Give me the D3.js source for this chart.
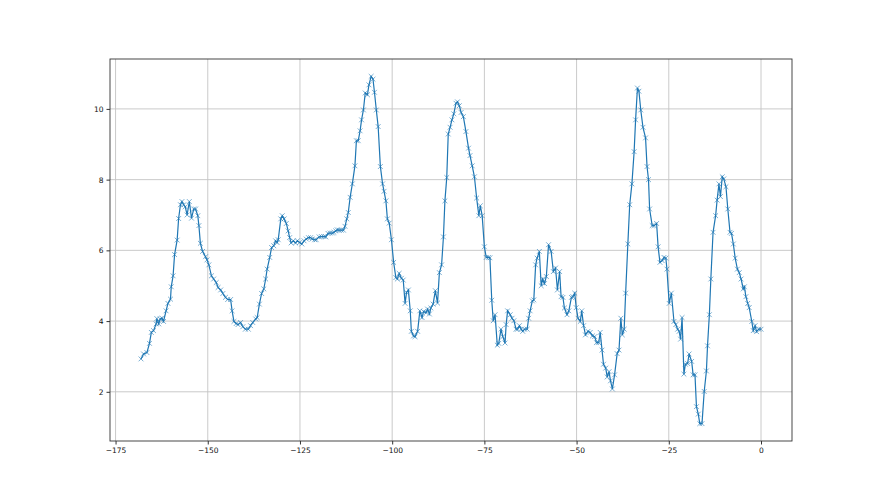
<!DOCTYPE html>
<html>
<head>
<meta charset="utf-8">
<script src="https://cdn.jsdelivr.net/npm/d3@7"></script>
<style>
 body { margin: 0; background: #fff; }
 .axis text { font-family: "DejaVu Sans", sans-serif; font-size: 7.5px; fill: #111; }
 .axis path, .axis line { stroke: #333; }
</style>
</head>
<body>
<svg width="880" height="495"></svg>
<script>
// values
var xVals = [-168.1, -167.4, -166.5, -165.8, -165.3, -164.7, -164.0, -163.8, -163.3, -162.9,
 -162.4, -162.0, -161.3, -160.8, -160.1, -159.9, -159.4, -159.0, -158.3, -157.9,
 -157.4, -157.0, -156.5, -156.1, -155.6, -155.0, -154.4, -153.8, -153.3, -152.7,
 -152.4, -152.0, -151.4, -150.6, -150.2, -149.7, -149.0, -148.4, -147.7, -147.2,
 -146.5, -145.9, -145.2, -144.6, -143.8, -143.4, -142.9, -142.3, -141.8, -141.1,
 -140.5, -139.8, -139.0, -138.4, -137.8, -137.0, -136.6, -136.0, -135.4, -134.8,
 -134.3, -133.9, -133.2, -132.7, -132.1, -131.6, -131.2, -130.9, -130.2, -129.8,
 -129.3, -128.7, -128.2, -127.8, -127.4, -126.8, -126.2, -125.7, -125.1, -124.5,
 -123.9, -123.3, -122.7, -122.1, -121.7, -121.0, -120.6, -119.8, -119.2, -118.5,
 -118.0, -117.4, -116.8, -116.2, -115.8, -115.3, -114.9, -114.4, -113.8, -113.2,
 -112.8, -112.3, -111.9, -111.4, -110.8, -110.1, -109.7, -109.2, -108.7, -108.3,
 -107.8, -107.3, -106.7, -106.3, -105.7, -105.2, -104.8, -104.3, -103.8, -103.2,
 -102.6, -102.2, -101.7, -101.3, -100.8, -100.2, -99.6, -99.0, -98.6, -98.1,
 -97.5, -97.0, -96.5, -96.1, -95.6, -95.1, -94.8, -94.2, -93.8, -93.1,
 -92.5, -91.9, -91.5, -90.8, -90.4, -89.9, -89.5, -88.9, -88.3, -87.7,
 -87.2, -86.6, -86.1, -85.7, -85.2, -84.8, -84.3, -83.8, -83.3, -82.7,
 -82.3, -81.8, -81.3, -80.7, -80.0, -79.3, -78.9, -78.3, -77.7, -77.1,
 -76.5, -76.1, -75.6, -75.0, -74.5, -73.9, -73.5, -73.0, -72.6, -72.1,
 -71.5, -71.1, -70.5, -70.0, -69.4, -69.1, -68.7, -68.0, -67.5, -67.0,
 -66.4, -66.0, -65.5, -65.0, -64.6, -64.1, -63.4, -63.0, -62.6, -62.0,
 -61.6, -61.1, -60.7, -60.1, -59.6, -59.2, -58.7, -58.2, -57.6, -56.9,
 -56.3, -55.7, -55.2, -54.6, -54.2, -53.7, -53.3, -52.6, -52.1, -51.4,
 -51.0, -50.5, -50.1, -49.6, -49.0, -48.6, -48.1, -47.6, -46.9, -46.3,
 -45.7, -45.1, -44.6, -44.0, -43.6, -43.1, -42.7, -42.1, -41.7, -41.2,
 -40.8, -40.3, -39.7, -39.0, -38.5, -38.0, -37.6, -37.1, -36.7, -36.1,
 -35.6, -35.0, -34.4, -34.0, -33.5, -33.1, -32.6, -32.0, -31.3, -30.9,
 -30.5, -30.2, -29.5, -29.0, -28.3, -27.9, -27.4, -26.8, -26.3, -25.8,
 -25.5, -24.9, -24.3, -23.6, -23.1, -22.6, -22.2, -21.8, -21.4, -20.9,
 -20.5, -19.9, -19.5, -18.8, -18.4, -17.9, -17.5, -17.0, -16.6, -16.0,
 -15.4, -14.8, -14.5, -14.0, -13.6, -13.0, -12.3, -11.9, -11.4, -11.0,
 -10.5, -10.1, -9.5, -9.0, -8.4, -8.0, -7.5, -7.0, -6.4, -5.9,
 -5.4, -4.8, -4.5, -4.1, -3.6, -3.2, -2.5, -2.1, -1.6, -1.2,
 -0.6, 0.0];

var yVals = [2.93, 3.07, 3.11, 3.37, 3.68, 3.73, 3.92, 4.07, 3.92, 4.06,
 4.08, 3.99, 4.29, 4.50, 4.62, 4.97, 5.28, 5.88, 6.29, 6.90,
 7.29, 7.38, 7.29, 7.23, 7.00, 7.38, 6.91, 7.17, 7.17, 6.98,
 6.70, 6.20, 5.97, 5.82, 5.73, 5.59, 5.28, 5.19, 5.09, 4.95,
 4.88, 4.78, 4.67, 4.61, 4.61, 4.29, 3.99, 3.93, 3.90, 3.96,
 3.84, 3.77, 3.77, 3.87, 3.96, 4.06, 4.10, 4.48, 4.78, 4.91,
 5.19, 5.47, 5.80, 6.08, 6.13, 6.27, 6.22, 6.30, 6.89, 6.98,
 6.89, 6.76, 6.55, 6.36, 6.21, 6.27, 6.21, 6.27, 6.22, 6.18,
 6.27, 6.32, 6.36, 6.36, 6.32, 6.30, 6.30, 6.38, 6.39, 6.39,
 6.38, 6.48, 6.49, 6.49, 6.51, 6.55, 6.58, 6.57, 6.57, 6.57,
 6.68, 6.89, 7.07, 7.50, 7.88, 8.39, 9.10, 9.10, 9.38, 9.69,
 9.97, 10.45, 10.40, 10.68, 10.92, 10.84, 10.47, 9.97, 9.50, 8.37,
 7.88, 7.67, 7.40, 6.89, 6.77, 6.30, 5.66, 5.23, 5.19, 5.35,
 5.21, 5.16, 4.50, 4.81, 4.88, 4.29, 3.71, 3.58, 3.56, 3.71,
 4.29, 4.10, 4.27, 4.24, 4.34, 4.20, 4.37, 4.48, 4.86, 4.51,
 5.37, 5.59, 6.38, 7.40, 8.06, 9.29, 9.48, 9.69, 9.86, 10.16,
 10.20, 10.09, 9.90, 9.78, 9.36, 8.89, 8.68, 8.39, 8.08, 7.48,
 6.98, 7.26, 6.98, 6.10, 5.80, 5.80, 5.79, 4.59, 4.01, 4.18,
 3.32, 3.37, 3.77, 3.56, 3.38, 3.90, 4.29, 4.18, 4.08, 4.01,
 3.77, 3.77, 3.87, 3.77, 3.71, 3.77, 3.77, 4.08, 4.29, 4.57,
 4.60, 5.59, 5.78, 5.97, 5.00, 5.19, 5.06, 5.26, 6.16, 5.97,
 5.40, 5.50, 4.88, 5.40, 4.69, 4.67, 4.37, 4.18, 4.29, 4.67,
 4.69, 4.79, 4.38, 4.08, 3.99, 4.29, 3.87, 3.61, 3.71, 3.68,
 3.58, 3.56, 3.39, 3.39, 3.68, 3.18, 2.78, 2.67, 2.42, 2.57,
 2.31, 2.08, 2.48, 3.08, 3.18, 4.08, 3.61, 3.77, 4.79, 6.18,
 7.29, 7.88, 8.79, 9.69, 10.59, 10.50, 9.97, 9.48, 9.18, 8.37,
 8.00, 7.17, 6.70, 6.70, 6.76, 6.10, 5.66, 5.71, 5.80, 5.78,
 5.47, 4.50, 4.79, 3.99, 3.90, 3.77, 3.71, 3.49, 4.10, 2.50,
 2.78, 2.80, 3.07, 2.86, 2.48, 2.48, 1.58, 1.37, 1.10, 1.10,
 2.01, 2.59, 3.30, 4.18, 5.19, 6.51, 6.98, 7.42, 7.88, 7.52,
 8.08, 8.02, 7.80, 7.17, 6.51, 6.48, 6.18, 5.78, 5.47, 5.37,
 5.19, 4.91, 4.97, 4.69, 4.50, 4.38, 3.99, 3.73, 3.87, 3.70,
 3.77, 3.77];

var xTicks = [-175, -150, -125, -100, -75, -50, -25, 0];
var yTicks = [2, 4, 6, 8, 10];

var data = xVals.map(function(d, i) {
 return { x: d, y: yVals[i] };
});

var svg = d3.select("svg"),
 margin = { top: 59, right: 88, bottom: 54, left: 110 },
 width = +svg.attr("width") - margin.left - margin.right,
 height = +svg.attr("height") - margin.top - margin.bottom;

var g = svg.append("g")
 .attr("transform", "translate(" + margin.left + "," + margin.top + ")");

// matplotlib style 5% padding on each side
var xMin = d3.min(xVals), xMax = d3.max(xVals);
var yMin = d3.min(yVals), yMax = d3.max(yVals);
var xPad = (xMax - xMin) * 0.05, yPad = (yMax - yMin) * 0.05;

var x = d3.scaleLinear().domain([xMin - xPad, xMax + xPad]).range([0, width]);
var y = d3.scaleLinear().domain([yMin - yPad, yMax + yPad]).range([height, 0]);

// grid
g.append("g")
 .selectAll("line")
 .data(xTicks)
 .enter()
 .append("line")
 .attr("x1", function(d) { return x(d); })
 .attr("x2", function(d) { return x(d); })
 .attr("y1", 0)
 .attr("y2", height)
 .attr("stroke", "#c4c4c4")
 .attr("stroke-width", 0.9);

g.append("g")
 .selectAll("line")
 .data(yTicks)
 .enter()
 .append("line")
 .attr("x1", 0)
 .attr("x2", width)
 .attr("y1", function(d) { return y(d); })
 .attr("y2", function(d) { return y(d); })
 .attr("stroke", "#c4c4c4")
 .attr("stroke-width", 0.9);

var fmt = function(d) { return d < 0 ? "\u2212" + Math.abs(d) : "" + d; };

g.append("g")
 .attr("class", "axis")
 .attr("transform", "translate(0," + height + ")")
 .call(d3.axisBottom(x).tickValues(xTicks).tickFormat(fmt).tickSize(3.5).tickPadding(3))
 .call(function(a) { a.select(".domain").remove(); });

g.append("g")
 .attr("class", "axis")
 .call(d3.axisLeft(y).tickValues(yTicks).tickFormat(fmt).tickSize(3.5).tickPadding(3))
 .call(function(a) { a.select(".domain").remove(); });

// the line
var line = d3.line()
 .x(function(d) { return x(d.x); })
 .y(function(d) { return y(d.y); });

g.append("path")
 .datum(data)
 .attr("fill", "none")
 .attr("stroke", "#1f77b4")
 .attr("stroke-width", 1.2)
 .attr("d", line);

// x markers
var m = 2.4;
g.append("g")
 .selectAll("path")
 .data(data)
 .enter()
 .append("path")
 .attr("d", function(d) {
  var cx = x(d.x), cy = y(d.y);
  return "M" + (cx - m) + "," + (cy - m) + "L" + (cx + m) + "," + (cy + m) +
   "M" + (cx - m) + "," + (cy + m) + "L" + (cx + m) + "," + (cy - m);
 })
 .attr("stroke", "#1f77b4")
 .attr("stroke-opacity", 0.75)
 .attr("stroke-width", 0.8)
 .attr("fill", "none");

// frame
g.append("rect")
 .attr("x", 0)
 .attr("y", 0)
 .attr("width", width)
 .attr("height", height)
 .attr("fill", "none")
 .attr("stroke", "#333")
 .attr("stroke-width", 0.9);
</script>
</body>
</html>
